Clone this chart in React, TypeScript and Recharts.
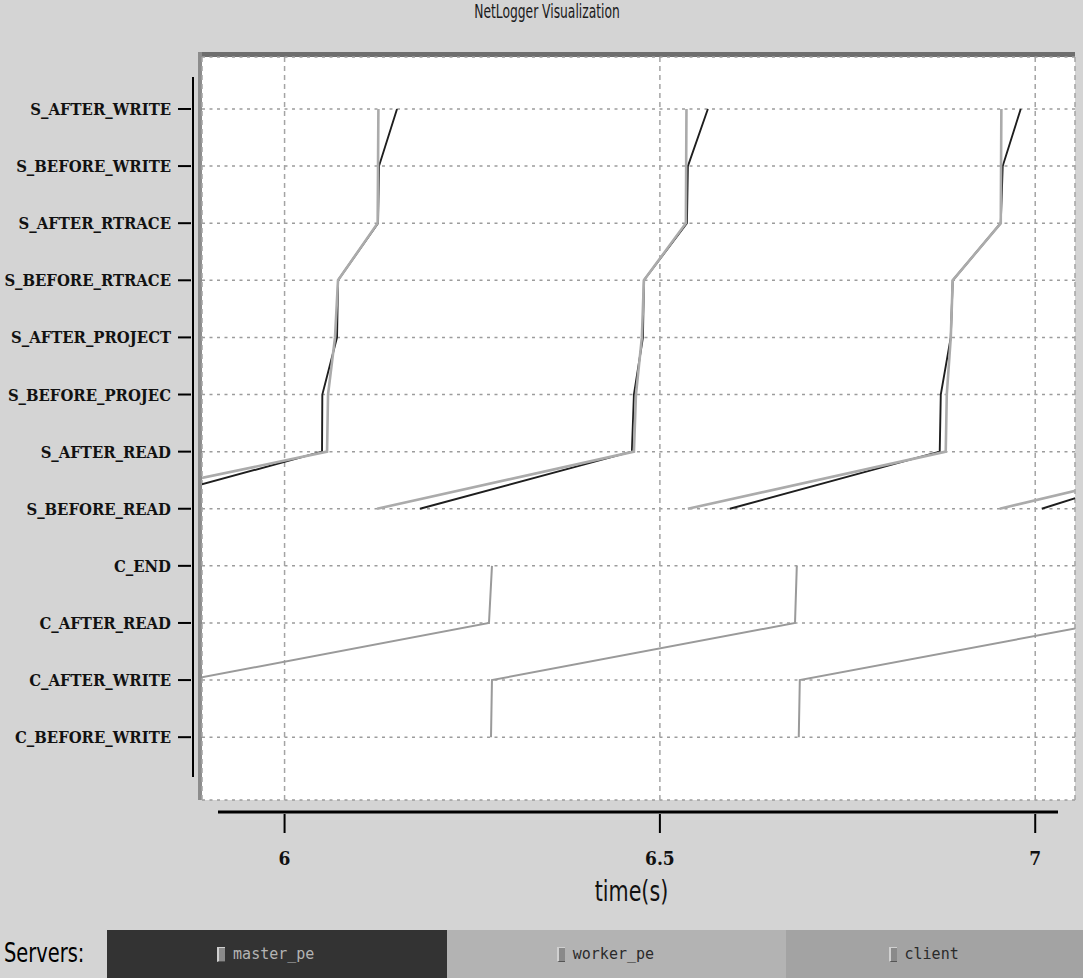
import { LineChart, Line, XAxis, YAxis, CartesianGrid } from "recharts";

const eventNames = [
  "C_BEFORE_WRITE",
  "C_AFTER_WRITE",
  "C_AFTER_READ",
  "C_END",
  "S_BEFORE_READ",
  "S_AFTER_READ",
  "S_BEFORE_PROJEC",
  "S_AFTER_PROJECT",
  "S_BEFORE_RTRACE",
  "S_AFTER_RTRACE",
  "S_BEFORE_WRITE",
  "S_AFTER_WRITE",
];

const timeTicks = [6, 6.5, 7];

// server lifelines: times (s) from S_BEFORE_READ upwards
const masterCycles = [
  [5.7703, 6.0499, 6.0503, 6.0699, 6.0712, 6.1245, 6.1258, 6.1498],
  [6.1804, 6.4627, 6.4654, 6.4774, 6.4787, 6.536, 6.5373, 6.5639],
  [6.5932, 6.8728, 6.8742, 6.8875, 6.8901, 6.9541, 6.9567, 6.9807],
  [7.0087, 7.2523],
];

const workerCycles = [
  [5.6944, 6.0566, 6.0579, 6.0672, 6.0712, 6.124, 6.1245, 6.125],
  [6.1232, 6.4654, 6.4681, 6.476, 6.4787, 6.5346, 6.535, 6.5354],
  [6.5373, 6.8808, 6.8822, 6.8875, 6.8901, 6.9541, 6.9545, 6.9549],
  [6.9527, 7.2723],
];

// client lifelines: times (s) from C_BEFORE_WRITE upwards
const clientCycles = [
  [5.869, 5.87, 6.2723, 6.2763],
  [6.275, 6.2763, 6.68, 6.6824],
  [6.685, 6.6864, 7.0925],
];

const servers = ["master_pe", "worker_pe", "client"];

const SERVER_START = 4;
const CLIENT_START = 0;

const toLife = (times: number[], start: number) =>
  times.map((t, i) => ({ t, e: start + i }));

const serverFont = "'DejaVu Serif Condensed', 'DejaVu Serif', serif";
const narrowFont = "'DejaVu Sans Condensed', sans-serif";

const legendBg = ["#333333", "#b3b3b3", "#a3a3a3"];
const legendInk = ["#b4b4b4", "#2a2a2a", "#2a2a2a"];

const EventTick = ({ x, y, payload }: any) => (
  <g>
    <line x1={x - 22} x2={x - 9} y1={y} y2={y} stroke="#000" strokeWidth={2} />
    <text
      x={x - 29}
      y={y}
      dy={6}
      textAnchor="end"
      fontFamily={serverFont}
      fontWeight="bold"
      fontSize={16.5}
      fill="#111"
    >
      {eventNames[payload.value]}
    </text>
  </g>
);

const TimeTick = ({ x, y, payload }: any) => (
  <g>
    <line x1={x} x2={x} y1={y + 12} y2={y + 31} stroke="#000" strokeWidth={2} />
    <text
      x={x}
      y={y + 63}
      textAnchor="middle"
      fontFamily={serverFont}
      fontWeight="bold"
      fontSize={19}
      fill="#111"
    >
      {payload.value}
    </text>
  </g>
);

const TimeLabel = ({ viewBox }: any) => {
  const cx = viewBox.x + viewBox.width / 2 - 7;
  const cy = viewBox.y + 101;
  return (
    <text
      x={cx}
      y={cy}
      textAnchor="middle"
      fontFamily={narrowFont}
      fontSize={28}
      fill="#111"
      transform={`translate(${cx} 0) scale(0.82 1) translate(${-cx} 0)`}
    >
      time(s)
    </text>
  );
};

export default function App() {
  return (
    <div
      style={{
        position: "absolute",
        left: 0,
        top: 0,
        width: 1083,
        height: 978,
        background: "#d4d4d4",
        overflow: "hidden",
      }}
    >
      <div
        style={{
          position: "absolute",
          top: 0,
          left: 0,
          width: 1094,
          textAlign: "center",
          fontFamily: narrowFont,
          fontSize: 19,
          color: "#1a1a1a",
          transform: "scaleX(0.72)",
          transformOrigin: "547px 0",
        }}
      >
        NetLogger Visualization
      </div>

      {/* sunken frame round the plot */}
      <div style={{ position: "absolute", left: 198, top: 52, width: 877, height: 5, background: "#6e6e6e" }} />
      <div style={{ position: "absolute", left: 198, top: 52, width: 4, height: 748, background: "#8c8c8c" }} />

      <div style={{ position: "absolute", left: 0, top: 0 }}>
        <LineChart width={1083} height={930} margin={{ top: 57, right: 8, bottom: 30, left: 0 }}>
          <CartesianGrid
            vertical={false}
            fill="#fff"
            stroke="#9c9c9c"
            strokeWidth={1.5}
            strokeDasharray="3 4.5"
          />
          <CartesianGrid horizontal={false} stroke="#a4a4a4" strokeWidth={1.5} strokeDasharray="5 4" />
          <XAxis
            dataKey="t"
            type="number"
            domain={[5.89, 7.053]}
            ticks={timeTicks}
            allowDataOverflow
            height={100}
            tickSize={0}
            tickLine={false}
            tick={<TimeTick />}
            axisLine={{
              stroke: "#000",
              strokeWidth: 3,
              transform: "translate(0 12)",
              strokeDasharray: "0 16 840 2000",
            }}
            label={<TimeLabel />}
          />
          <YAxis
            dataKey="e"
            type="number"
            domain={[-1.1, 11.91]}
            ticks={eventNames.map((_, i) => i)}
            allowDataOverflow
            width={202}
            tickSize={0}
            tickLine={false}
            tick={<EventTick />}
            axisLine={{
              stroke: "#000",
              strokeWidth: 2,
              transform: "translate(-9 0)",
              strokeDasharray: "0 20 700 2000",
            }}
          />
          {clientCycles.map((c, i) => (
            <Line
              key={"client" + i}
              data={toLife(c, CLIENT_START)}
              dataKey="e"
              type="linear"
              stroke="#9a9a9a"
              strokeWidth={2}
              dot={false}
              isAnimationActive={false}
            />
          ))}
          {masterCycles.map((c, i) => (
            <Line
              key={"master" + i}
              data={toLife(c, SERVER_START)}
              dataKey="e"
              type="linear"
              stroke="#1e1e1e"
              strokeWidth={1.9}
              dot={false}
              isAnimationActive={false}
            />
          ))}
          {workerCycles.map((c, i) => (
            <Line
              key={"worker" + i}
              data={toLife(c, SERVER_START)}
              dataKey="e"
              type="linear"
              stroke="#ababab"
              strokeWidth={2.6}
              dot={false}
              isAnimationActive={false}
            />
          ))}
        </LineChart>
      </div>

      {/* server legend bar */}
      <div style={{ position: "absolute", left: 0, top: 930, width: 1083, height: 48, display: "flex" }}>
        <div style={{ width: 107, position: "relative" }}>
          <span
            style={{
              position: "absolute",
              left: 4,
              top: 0,
              fontFamily: narrowFont,
              fontSize: 27,
              lineHeight: "46px",
              color: "#000",
              transform: "scaleX(0.8)",
              transformOrigin: "0 0",
              whiteSpace: "nowrap",
            }}
          >
            Servers:
          </span>
        </div>
        {servers.map((s, i) => (
          <div
            key={s}
            style={{
              width: i === 2 ? 297 : 340,
              background: legendBg[i],
              display: "flex",
              alignItems: "center",
              justifyContent: "center",
              paddingRight: 22,
              boxSizing: "border-box",
            }}
          >
            <span
              style={{
                display: "inline-block",
                width: 6,
                height: 13,
                background: "#8a8a8a",
                borderLeft: "2px solid #d0d0d0",
                borderTop: "1px solid #d0d0d0",
                borderBottom: "1px solid #555",
                marginRight: 8,
              }}
            />
            <span style={{ fontFamily: "'DejaVu Sans Mono', monospace", fontSize: 15, color: legendInk[i] }}>
              {s}
            </span>
          </div>
        ))}
      </div>
    </div>
  );
}
